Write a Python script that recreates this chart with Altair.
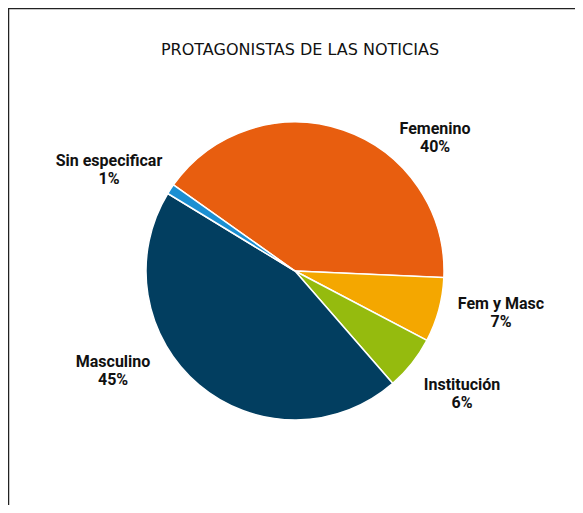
import math
import altair as alt
import pandas as pd

categories = ["Femenino", "Fem y Masc", "Institución", "Masculino", "Sin especificar"]
values = [40.9, 7.0, 5.9, 45.1, 1.1]
pct_labels = ["40%", "7%", "6%", "45%", "1%"]
colors = ["#E85E0F", "#F4A700", "#95BB0E", "#023E60", "#1B8FD2"]

# label offsets (style) relative to slice-middle point at label radius
label_offsets = {
    "Femenino": (72.6, 54.8),
    "Fem y Masc": (5.2, -21.3),
    "Institución": (3.9, -15.1),
    "Masculino": (-47.8, -67.5),
    "Sin especificar": (-12.2, 3.8),
}

df = pd.DataFrame({
    "cat": categories,
    "value": values,
    "pct": pct_labels,
    "order": list(range(len(categories))),
})

total = sum(values)
start = math.radians(305.3)
theta_scale = alt.Scale(domain=[0, total], range=[start, start + 2 * math.pi])
color_scale = alt.Scale(domain=categories, range=colors)

base = alt.Chart(df)

pie = base.mark_arc(radius=149, stroke="white", strokeWidth=1.5).encode(
    theta=alt.Theta("value:Q", stack=True, scale=theta_scale),
    color=alt.Color("cat:N", scale=color_scale, legend=None),
    order=alt.Order("order:Q"),
)

label_base = base.transform_window(
    cum="sum(value)", sort=[alt.SortField("order")], frame=[None, 0]
).transform_calculate(
    mid="datum.cum - datum.value / 2",
    lab="datum.cat + '\\n' + datum.pct",
)

label_font = "Roboto"
layers = [pie]
for cat, (dx, dy) in label_offsets.items():
    layers.append(
        label_base.transform_filter(alt.datum.cat == cat)
        .mark_text(
            radius=208, dx=dx, dy=dy, font=label_font, fontSize=16,
            fontWeight="bold", lineHeight=18, lineBreak="\n",
            align="center", baseline="middle", color="#111111",
        )
        .encode(
            theta=alt.Theta("mid:Q", scale=theta_scale, stack=None),
            text=alt.Text("lab:N"),
        )
    )

frame = alt.Chart(alt.Data(values=[{}])).mark_rect(
    filled=False, stroke="#222222", strokeWidth=1.5
).encode(
    x=alt.value(-6.5), y=alt.value(-28.5), x2=alt.value(700), y2=alt.value(700)
)
layers.append(frame)

chart = alt.layer(*layers).properties(
    width=560,
    height=468,
    padding={"left": 7, "top": 29, "right": 0, "bottom": 0},
    autosize=alt.AutoSizeParams(type="none"),
    background="white",
    title=alt.TitleParams(
        "PROTAGONISTAS DE LAS NOTICIAS",
        font="DejaVu Sans", fontSize=16, fontWeight="normal", color="#111111",
        anchor="middle", offset=0, baseline="alphabetic", dx=5, dy=63,
    ),
).configure_view(stroke=None)

chart.save("out.html", embed_options={"renderer": "svg", "actions": False})
